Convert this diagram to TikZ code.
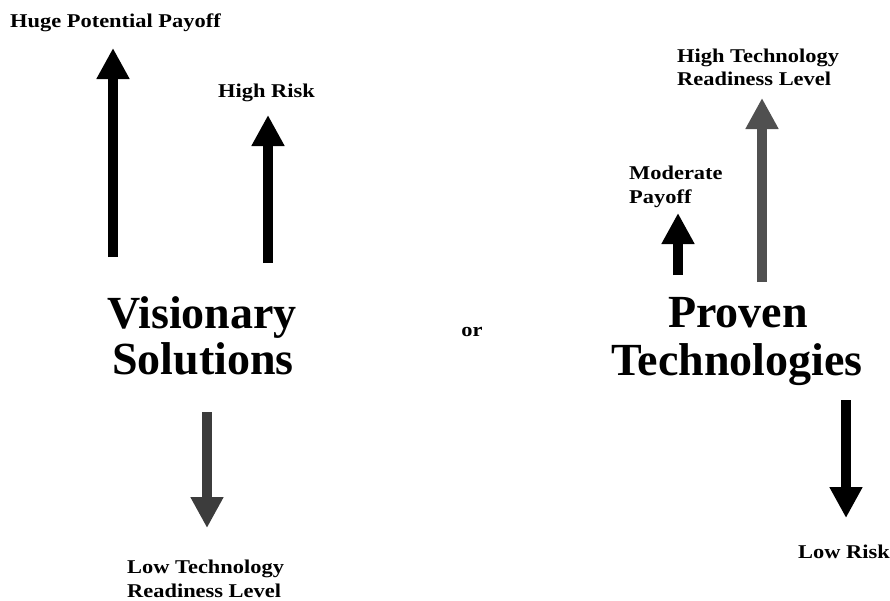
\documentclass[tikz,border=0pt]{standalone}
\usepackage{fontspec}
\setmainfont{Liberation Serif}
\newfontfamily\widefont[FakeStretch=1.15]{Liberation Serif}
\usetikzlibrary{arrows.meta}
\definecolor{darkgrayarrow}{HTML}{3C3C3C}
\definecolor{midgrayarrow}{HTML}{505050}
\tikzset{
  bigarrow/.style={line width=9.5pt, -{Triangle[length=31pt,width=31pt]}},
  small/.style={font=\widefont\fontsize{19.5}{24}\selectfont\bfseries, inner sep=0pt},
  big/.style={font=\fontsize{46}{50}\selectfont\bfseries, inner sep=0pt, anchor=base},
}
\begin{document}
\begin{tikzpicture}[x=1pt,y=-1pt]
\useasboundingbox (0,0) rectangle (890,600);
% texts
\node[small, anchor=base west] (huge) at (10,27) {Huge Potential Payoff};
\node[small, anchor=base west] (highrisk) at (218,97) {High Risk};
\node[big] (vis) at (202,328) {Visionary};
\node[big] (sol) at (203,374) {Solutions};
\node[small, anchor=base west] (lowtrl1) at (127,573) {Low Technology};
\node[small, anchor=base west] (lowtrl2) at (127,597) {Readiness Level};
\node[small, anchor=base] (or) at (472,336) {or};
\node[small, anchor=base west] (hightrl1) at (677,62) {High Technology};
\node[small, anchor=base west] (hightrl2) at (677,85) {Readiness Level};
\node[small, anchor=base west] (mod1) at (629,179) {Moderate};
\node[small, anchor=base west] (mod2) at (629,203) {Payoff};
\node[big] (prov) at (738,327) {Proven};
\node[big] (tech) at (737,375) {Technologies};
\node[small, anchor=base west] (lowrisk) at (798,558) {Low Risk};
% arrows
\coordinate (a1s) at (113,257); \coordinate (a1e) at (113,48);
\coordinate (a2s) at (268,263); \coordinate (a2e) at (268,115);
\coordinate (a3s) at (207,412); \coordinate (a3e) at (207,528);
\coordinate (a4s) at (678,275); \coordinate (a4e) at (678,213);
\coordinate (a5s) at (762,282); \coordinate (a5e) at (762,98);
\coordinate (a6s) at (846,400); \coordinate (a6e) at (846,518);
\draw[bigarrow] (a1s) -- (a1e);
\draw[bigarrow] (a2s) -- (a2e);
\draw[bigarrow, darkgrayarrow] (a3s) -- (a3e);
\draw[bigarrow] (a4s) -- (a4e);
\draw[bigarrow, midgrayarrow] (a5s) -- (a5e);
\draw[bigarrow] (a6s) -- (a6e);
\end{tikzpicture}
\end{document}
